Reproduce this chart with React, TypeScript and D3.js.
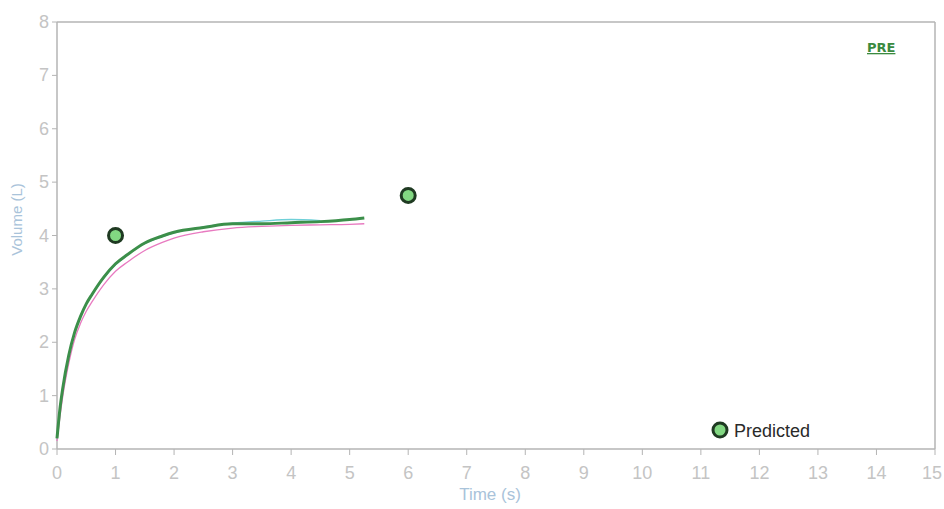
import React from "react";
import * as d3 from "d3";

const times = [0, 0.05, 0.1, 0.2, 0.3, 0.4, 0.5, 0.6, 0.8, 1.0, 1.2, 1.5, 1.8, 2.0, 2.5, 3.0, 3.5, 4.0, 4.5, 5.0, 5.25];
const greenVals = [0.2, 0.75, 1.15, 1.75, 2.18, 2.48, 2.72, 2.9, 3.22, 3.47, 3.64, 3.86, 3.99, 4.06, 4.15, 4.22, 4.22, 4.24, 4.26, 4.3, 4.33];
const cyanVals = [0.2, 0.76, 1.16, 1.76, 2.19, 2.49, 2.72, 2.89, 3.2, 3.45, 3.63, 3.85, 3.98, 4.05, 4.16, 4.23, 4.27, 4.3, 4.28, 4.28, 4.3];
const pinkVals = [0.15, 0.6, 1.0, 1.6, 2.05, 2.35, 2.58, 2.76, 3.08, 3.33, 3.5, 3.72, 3.87, 3.95, 4.07, 4.14, 4.17, 4.19, 4.2, 4.21, 4.22];
const predicted = [{ t: 1, v: 4.0 }, { t: 6, v: 4.75 }];
const xTicks = d3.range(0, 16);
const yTicks = d3.range(0, 9);

export default function App() {
  const W = 944, H = 509;
  const x = d3.scaleLinear().domain([0, 15]).range([57, 935]);
  const y = d3.scaleLinear().domain([0, 8]).range([449, 22]);
  const line = (vals: number[]) =>
    d3.line<number>().x((_, i) => x(times[i])).y((d) => y(d)).curve(d3.curveMonotoneX)(vals) || "";
  const gray = "#b4b4b4";
  const tickColor = "#c4c4c4";
  return (
    <svg width={W} height={H} style={{ position: "absolute", left: 0, top: 0, background: "#fff" }}>
      <rect x={0} y={0} width={W} height={H} fill="#fff" />
      <line x1={x(0)} x2={x(15)} y1={y(8)} y2={y(8)} stroke={gray} strokeWidth={1.5} />
      <line x1={x(15)} x2={x(15)} y1={y(8)} y2={y(0)} stroke={gray} strokeWidth={1.5} />
      <line x1={x(0)} x2={x(15)} y1={y(0)} y2={y(0)} stroke={gray} strokeWidth={1.5} />
      <line x1={x(0)} x2={x(0)} y1={y(8)} y2={y(0)} stroke={gray} strokeWidth={1.5} />
      {xTicks.map((t) => (
        <g key={"x" + t}>
          <line x1={x(t)} x2={x(t)} y1={y(0)} y2={y(0) + 6} stroke={gray} />
          <text x={t === 15 ? 942 : x(t)} y={y(0) + 30} textAnchor={t === 15 ? "end" : "middle"} fontFamily="Liberation Sans, Arial" fontSize={18} fill={tickColor}>{t}</text>
        </g>
      ))}
      {yTicks.map((v) => (
        <g key={"y" + v}>
          <line x1={x(0) - 5} x2={x(0)} y1={y(v)} y2={y(v)} stroke={gray} />
          <text x={x(0) - 8} y={y(v) + 6} textAnchor="end" fontFamily="Liberation Sans, Arial" fontSize={18} fill={tickColor}>{v}</text>
        </g>
      ))}
      <text transform={`translate(22,${y(4.3)}) rotate(-90)`} textAnchor="middle" fontFamily="Liberation Sans, Arial" fontSize={15} fill="#a9c3da">Volume (L)</text>
      <text x={490} y={500} textAnchor="middle" fontFamily="Liberation Sans, Arial" fontSize={17} fill="#a9c3da">Time (s)</text>
      <path d={line(pinkVals)} fill="none" stroke="#e87ac0" strokeWidth={1.3} />
      <path d={line(cyanVals.slice(0, 19))} fill="none" stroke="#6fd0d8" strokeWidth={1.3} />
      <path d={line(greenVals)} fill="none" stroke="#3c8f4a" strokeWidth={3} />
      {predicted.map((p, i) => (
        <circle key={i} cx={x(p.t)} cy={y(p.v)} r={7} fill="#82d882" stroke="#1f3a22" strokeWidth={3} />
      ))}
      <circle cx={720} cy={430} r={7} fill="#82d882" stroke="#1f3a22" strokeWidth={3} />
      <text x={734} y={437} fontFamily="Liberation Sans, Arial" fontSize={18} fill="#2a2a2a">Predicted</text>
      <text x={867} y={52} fontFamily="DejaVu Sans, Verdana" fontSize={13} fontWeight="bold" fill="#3a8a40" textDecoration="underline">PRE</text>
    </svg>
  );
}
